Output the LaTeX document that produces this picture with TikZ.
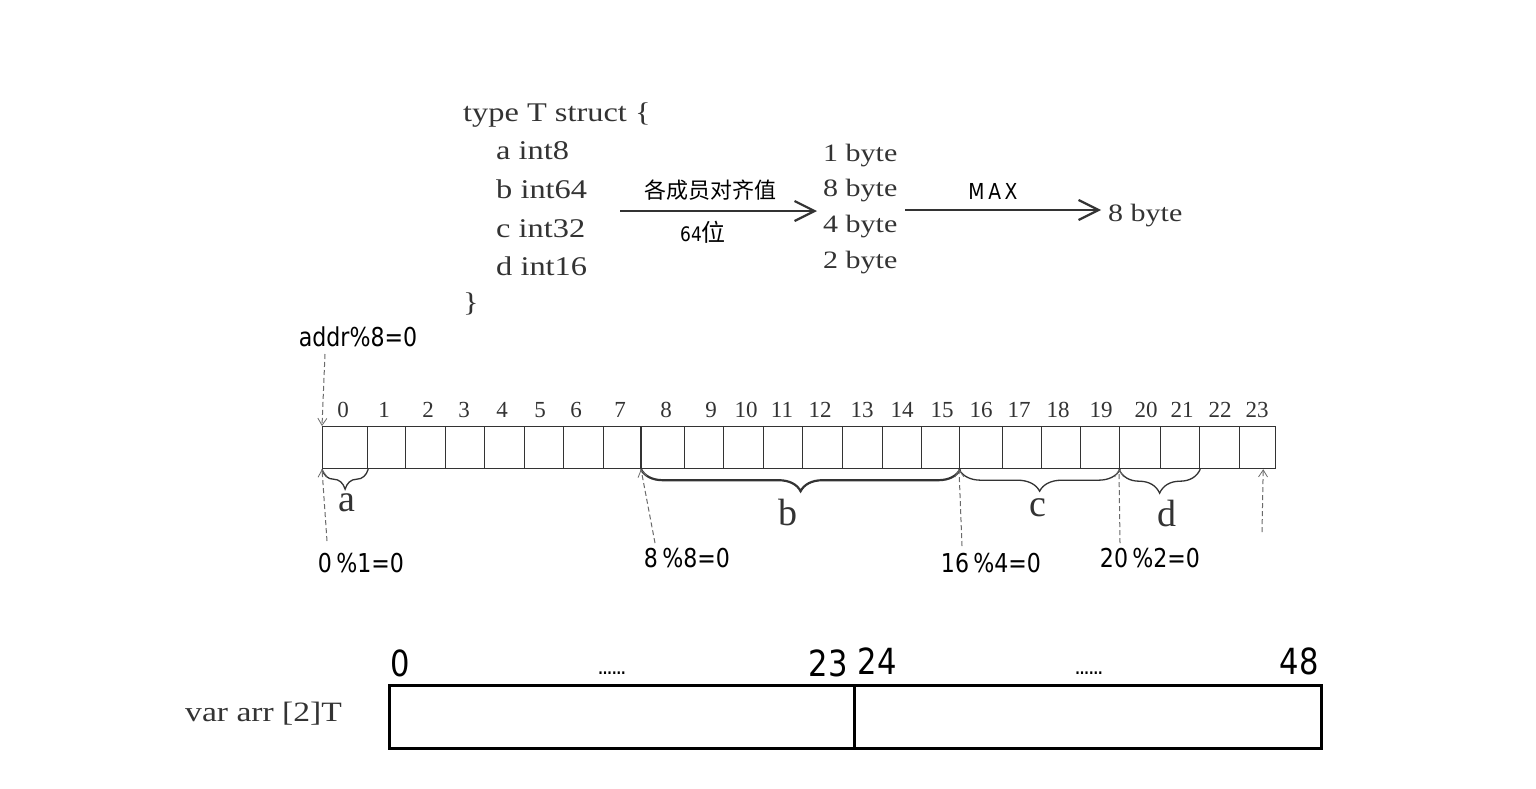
\documentclass[tikz,border=0pt]{standalone}
\usepackage{fontspec}
\setmainfont{Liberation Serif}
\newfontfamily\serifw[FakeStretch=1.2]{Liberation Serif}
\newfontfamily\hand[FakeStretch=0.85]{DejaVu Sans}
\newfontfamily\cjk{Noto Sans CJK SC}
\usetikzlibrary{arrows.meta,decorations.pathreplacing}
\definecolor{ink}{HTML}{333333}
\definecolor{dash}{HTML}{6A6A6A}
\tikzset{
  code/.style={anchor=base west,inner sep=0,text=ink,font=\serifw\fontsize{27}{30}\selectfont},
  bytes/.style={anchor=base west,inner sep=0,text=ink,font=\serifw\fontsize{25}{30}\selectfont},
  cell/.style={draw=ink,line width=1.2pt,minimum height=42,inner sep=0,anchor=north west},
  numlab/.style={inner sep=0,text=ink,font=\fontsize{23}{24}\selectfont},
  memb/.style={inner sep=0,text=ink,font=\fontsize{38}{40}\selectfont},
  handlab/.style={inner sep=0,text=black,font=\hand\fontsize{26}{28}\selectfont},
  bignum/.style={inner sep=0,text=black,font=\hand\fontsize{36}{38}\selectfont},
  bigarrow/.style={draw=ink,line width=2pt,-{Straight Barb[length=20pt,width=20pt,line width=2.2pt]}},
  dasharrow/.style={draw=dash,line width=1pt,dashed,dash pattern=on 5pt off 3pt,-{Straight Barb[length=7pt,width=9pt,line width=0.8pt]}},
  membrace/.style={draw=ink,line width=1.3pt,decorate,decoration={brace,mirror,amplitude=20pt}},
  arrbox/.style={draw=black,line width=2.5pt,inner sep=0,anchor=north west,minimum height=63},
}
\begin{document}
\begin{tikzpicture}[x=1pt,y=-1pt]
\useasboundingbox (0,0) rectangle (1536,788);
\fill[white] (0,0) rectangle (1536,788);

% struct definition
\node[code] (l0) at (463,121) {type T struct \{};
\node[code] (l1) at (496,159) {a int8};
\node[code] (l2) at (496,198) {b int64};
\node[code] (l3) at (496,237) {c int32};
\node[code] (l4) at (496,275) {d int16};
\node[code] (l5) at (463,311) {\}};

% alignment list
\node[bytes] (b1) at (823,161) {1 byte};
\node[bytes] (b2) at (823,196) {8 byte};
\node[bytes] (b3) at (823,232) {4 byte};
\node[bytes] (b4) at (823,268) {2 byte};
\node[bytes] (res) at (1108,221) {8 byte};

\coordinate (a1s) at (620,211);
\coordinate (a1e) at (817,211);
\coordinate (a2s) at (905,210);
\coordinate (a2e) at (1101,210);
\draw[bigarrow] (a1s) -- (a1e);
\draw[bigarrow] (a2s) -- (a2e);
\node[inner sep=0,text=black,font=\cjk\fontsize{22}{24}\selectfont] (lab1) at (710,190) {各成员对齐值};
\node[inner sep=0,text=black] (lab2) at (703,232) {{\hand\fontsize{20}{22}\selectfont 64}{\cjk\fontsize{24}{26}\selectfont 位}};
\node[inner sep=0,text=black,font=\hand\fontsize{22}{24}\selectfont] (max) at (993,191) {M\,A\,X};

% memory cells
\foreach \i/\l/\r in {0/322/367,1/367/405,2/405/445,3/445/484,4/484/524,5/524/563,6/563/603,7/603/641,
  8/641/684,9/684/723,10/723/763,11/763/802,12/802/842,13/842/882,14/882/921,15/921/959,
  16/959/1002,17/1002/1041,18/1041/1080,19/1080/1119,20/1119/1160,21/1160/1199,22/1199/1239,23/1239/1275}
  \node[cell,minimum width={\r-\l}] (c\i) at (\l,426) {};
\draw[draw=ink,line width=2pt] (c8.north west) -- (c8.south west);

\foreach \n/\x in {0/343,1/384,2/428,3/464,4/502,5/540,6/576,7/620,8/666,9/711,10/746,11/782,
  12/820,13/862,14/902,15/942,16/981,17/1019,18/1058,19/1101,20/1146,21/1182,22/1220,23/1257}
  \node[numlab] (n\n) at (\x,410) {\n};

% member braces
\draw[membrace,decoration={amplitude=20pt}] (c0.south west) -- (c0.south east);
\draw[membrace,line width=2.2pt,decoration={amplitude=22pt}] (c8.south west) -- (c15.south east);
\draw[membrace,decoration={amplitude=22pt}] (c16.south west) -- (c19.south east);
\draw[membrace,decoration={amplitude=24pt}] (c20.south west) -- (c21.south east);
\node[memb] (ma) at (347,503) {a};
\node[memb] (mb) at (788,512) {b};
\node[memb] (mc) at (1038,508) {c};
\node[memb] (md) at (1167,513) {d};

% offset annotations
\node[handlab] (addr) at (358,337) {addr\%8=0};
\node[handlab] (o0) at (361,563) {0\,\%1=0};
\node[handlab] (o8) at (687,558) {8\,\%8=0};
\node[handlab] (o16) at (991,563) {16\,\%4=0};
\node[handlab] (o20) at (1150,558) {20\,\%2=0};
\coordinate (endmark) at (1262,532);

\draw[dasharrow] (325,354) -- (c0.north west);
\draw[dasharrow] (327,541) -- (c0.south west);
\draw[dasharrow] (655,543) -- (c8.south west);
\draw[dasharrow] (962,546) -- (c16.south west);
\draw[dasharrow] (1120,543) -- (c20.south west);
\draw[dasharrow] (endmark) -- ([xshift=-13pt]c23.south east);

% array of two T
\node[inner sep=0,anchor=base west,text=ink,font=\serifw\fontsize{28}{30}\selectfont] (arrlab) at (185,721) {var arr [2]T};
\node[arrbox,minimum width=465] (t1) at (388,684) {};
\node[arrbox,minimum width=467] (t2) at (853,684) {};
\node[bignum] (z0) at (400,663) {0};
\node[bignum] (z23) at (828,663) {23};
\node[bignum] (z24) at (877,661) {24};
\node[bignum] (z48) at (1299,661) {48};
\node[inner sep=0,font=\hand\bfseries\fontsize{14}{14}\selectfont] (dots1) at (612,673) {......};
\node[inner sep=0,font=\hand\bfseries\fontsize{14}{14}\selectfont] (dots2) at (1089,673) {......};
\end{tikzpicture}
\end{document}
